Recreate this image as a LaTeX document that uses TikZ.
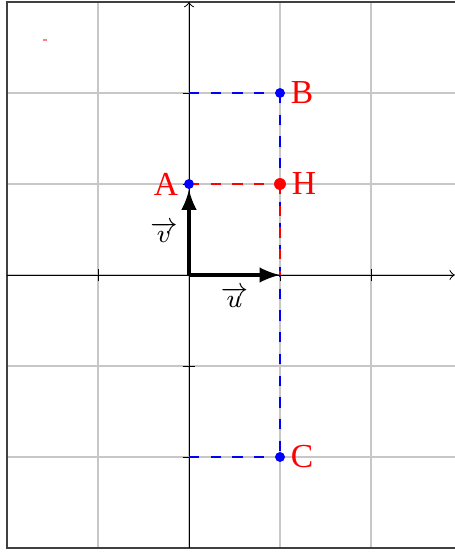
\documentclass[tikz,border=0pt]{standalone}
\usepackage{amsmath}
\usepackage{fontspec}
\usepackage{tikz}
\usetikzlibrary{arrows,positioning,calc}
\newfontfamily\labfont{Liberation Serif}

\tikzset{
    pt/.style={circle, fill=blue, inner sep=0pt, minimum size=3pt},
    ptH/.style={circle, fill=red, inner sep=0pt, minimum size=3.6pt},
    lab/.style={text=red, inner sep=1.5pt, font=\labfont\fontsize{10.5}{12}\selectfont},
    veclab/.style={inner sep=1pt, font=\fontsize{8}{9}\selectfont},
    proj/.style={blue, dash pattern=on 3.2pt off 3.6pt},
    projH/.style={red, dash pattern=on 3.2pt off 3.6pt},
    vect/.style={-latex, very thick}
}

\begin{document}
\begin{tikzpicture}[x=1cm, y=1cm]
    \useasboundingbox (-2.077,-3.044) rectangle (2.923,3.022);

    % Grid and frame
    \draw[black!22, line width=0.35pt] (-2,-3) grid (3,3);
    \draw[black!75, line width=0.4pt] (-2,-3) rectangle (3,3);

    % Axes
    \draw[->, >=to, line width=0.3pt] (-2,0) -- (2.92,0);
    \draw[->, >=to, line width=0.3pt] (0,-3) -- (0,3);
    \foreach \x in {-1,1,2}
        \draw[line width=0.3pt] (\x,-0.07) -- (\x,0.07);
    \foreach \y in {-2,-1,1,2}
        \draw[line width=0.3pt] (-0.07,\y) -- (0.07,\y);

    % Points
    \coordinate (O) at (0,0);
    \coordinate (U) at (1,0);
    \coordinate (Y2) at (0,2);
    \coordinate (Ym2) at (0,-2);
    \node[pt] (A) at (0,1) {};
    \node[pt] (B) at (1,2) {};
    \node[pt] (C) at (1,-2) {};
    \node[ptH] (H) at (1,1) {};

    % Projections
    \draw[proj] (Y2) -- (B.center);
    \draw[proj] (B.center) -- (C.center);
    \draw[proj] (Ym2) -- (C.center);
    \draw[projH] (A.center) -- (H.center);
    \draw[projH] (H.center) -- (U);

    % Vectors
    \draw[vect] (O) -- (U) node[veclab, midway, below=2pt] {$\overrightarrow{u}$};
    \draw[vect] (O) -- (A) node[veclab, midway, left=2pt] {$\overrightarrow{v}$};

    % Redraw points on top
    \node[pt] at (A) {};
    \node[pt] at (B) {};
    \node[pt] at (C) {};
    \node[ptH] at (H) {};

    % Labels
    \node[lab, left=0pt of A] {A};
    \node[lab, right=0pt of B] {B};
    \node[lab, right=0pt of H] {H};
    \node[lab, right=0pt of C] {C};

    % stray mark
    \draw[red!50, line width=0.5pt] (-1.6,2.58) -- (-1.56,2.58);
\end{tikzpicture}
\end{document}
